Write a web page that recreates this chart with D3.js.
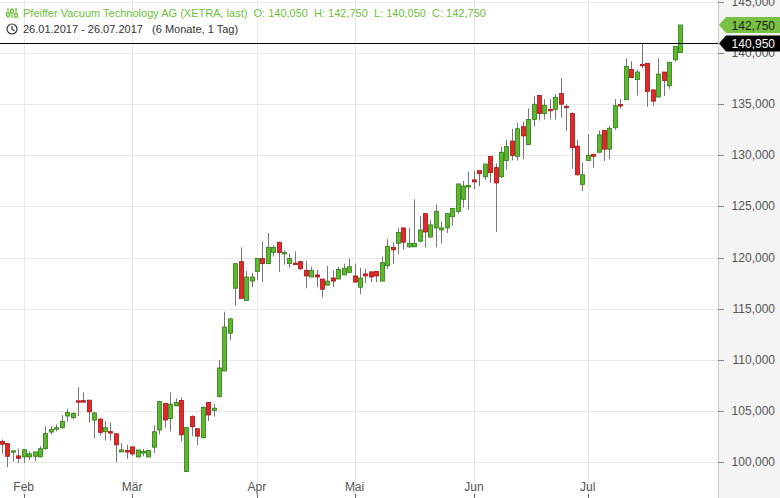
<!DOCTYPE html>
<html><head><meta charset="utf-8">
<script src="https://cdn.jsdelivr.net/npm/d3@7"></script>
<style>body{margin:0;background:#fff}svg{display:block;font-family:"Liberation Sans",Arial,sans-serif}</style>
</head><body><svg id="c" width="780" height="498"></svg>
<script>
// OHLC in thousand EUR, one row per trading day (26.01.2017 - 26.07.2017)
var opens = [102.0,101.8,101.0,100.6,100.5,100.5,100.56,100.5,101.3,102.93,103.22,103.35,104.5,104.34,105.99,106.0,106.05,104.1,104.2,102.96,102.97,102.76,100.99,101.12,101.48,100.49,100.89,100.49,101.45,103.13,105.72,104.24,105.49,106.02,99.08,104.44,103.26,102.37,105.82,105.03,106.4,108.9,112.6,117.0,119.6,115.8,117.7,118.65,119.9,119.4,120.5,121.5,120.4,119.4,119.45,119.6,118.75,118.1,118.3,117.9,117.3,118.0,117.9,118.3,118.55,118.2,117.1,118.4,118.6,118.65,117.7,119.2,121.0,121.4,122.9,121.05,121.05,121.6,124.3,122.0,122.9,122.7,122.9,124.0,124.5,125.7,126.9,127.6,128.5,127.9,129.9,128.8,127.9,129.5,131.4,129.9,132.8,131.05,133.5,135.85,134.1,134.5,134.5,136.05,134.8,134.1,130.9,127.15,129.5,130.1,130.3,132.45,130.6,132.7,134.97,135.45,138.4,137.4,138.9,139.0,136.4,135.7,138.15,136.8,139.35,140.05];
var highs = [102.2,101.8,101.1,101.3,101.2,101.05,100.99,101.55,103.5,103.5,103.68,104.57,105.2,104.84,107.3,106.8,106.05,104.9,104.3,104.0,103.85,102.76,101.87,101.7,101.48,101.18,101.28,101.12,103.59,105.99,105.72,106.81,106.22,106.32,103.36,104.57,103.26,105.43,105.82,105.66,110.0,114.7,114.1,119.4,121.0,118.7,118.5,119.9,121.6,122.4,121.2,121.5,120.7,120.4,120.6,119.7,119.7,119.1,118.8,117.9,119.2,118.7,119.1,119.4,119.9,119.4,119.0,118.9,118.6,118.65,120.1,121.8,121.5,122.9,122.9,122.9,125.7,124.05,124.3,123.65,125.2,123.5,124.3,124.8,127.2,127.5,128.4,128.5,128.5,129.15,129.9,129.2,130.85,131.5,132.6,133.2,133.3,134.6,135.8,135.85,135.5,135.5,136.0,137.55,135.0,134.2,131.5,129.3,132.05,130.1,132.45,132.45,132.85,135.5,135.5,139.5,139.2,138.4,140.95,139.0,136.45,139.5,138.15,139.1,140.65,142.75];
var lows = [100.8,99.5,100.07,99.9,99.9,100.2,100.07,100.46,101.2,102.7,103.0,103.26,103.95,104.18,104.5,105.9,103.85,102.3,102.6,102.1,102.1,99.96,100.99,100.3,100.56,100.49,100.56,100.49,100.89,102.7,103.36,103.0,105.49,102.04,99.01,102.53,101.64,102.37,104.01,104.44,106.3,108.9,111.9,115.3,116.0,115.8,117.1,117.8,117.6,119.4,120.1,118.6,119.3,119.0,119.4,118.8,117.0,118.1,117.1,116.1,117.3,117.1,117.9,118.3,118.55,117.6,116.4,117.5,117.6,117.6,117.7,118.9,119.4,120.3,120.8,120.95,121.05,121.5,121.0,122.0,121.0,121.4,122.4,123.1,124.3,124.9,124.7,126.7,127.0,127.6,127.3,122.5,127.8,128.6,129.5,129.5,129.6,131.05,132.8,133.4,133.5,133.5,133.5,133.7,132.4,128.7,128.0,126.5,129.5,128.8,130.3,129.45,129.6,132.5,134.6,135.45,137.6,135.85,138.5,134.75,134.85,135.7,135.8,136.5,139.15,140.05];
var closes = [101.74,100.56,101.1,100.36,101.2,100.8,100.99,101.3,102.8,103.19,103.35,103.98,104.84,104.77,105.95,105.95,104.9,104.8,102.9,103.36,102.93,101.68,101.18,100.99,100.79,101.18,101.02,101.12,102.96,105.92,104.11,105.66,105.82,102.66,103.36,103.45,102.53,105.33,104.6,105.26,109.2,113.2,114.0,119.4,116.0,118.1,118.1,119.9,119.4,121.0,121.0,120.5,120.5,119.9,119.4,118.9,118.2,118.75,118.1,116.9,117.7,117.7,118.85,118.95,119.1,117.6,118.0,118.2,118.1,118.2,119.5,121.1,120.75,122.45,121.5,121.4,121.4,122.7,122.5,123.2,124.5,122.9,124.3,124.8,127.2,127.0,127.05,127.4,128.2,129.15,128.3,127.3,130.3,130.85,130.0,132.6,131.9,133.5,135.0,134.1,134.9,134.45,135.65,135.0,134.7,130.75,128.1,128.1,130.0,129.9,132.0,130.6,132.65,134.85,134.9,138.7,137.6,138.15,138.8,136.25,135.3,137.95,137.3,139.1,140.65,142.75];
var monthLabels = ["Feb","Mär","Apr","Mai","Jun","Jul"];
var monthIdx = [4,24,47,65,87,108];
var yTicks = [100000,105000,110000,115000,120000,125000,130000,135000,140000,145000];
var lastPrice = 142750, refPrice = 140950;

var svg = d3.select("#c");
var W = 780, H = 498, plotR = 718;
var de = d3.formatLocale({decimal: ",", thousands: ".", grouping: [3], currency: ["", " €"]});
var fmt = function(v){ return de.format(".3f")(v/1000); };

var x = d3.scaleLinear().domain([0, opens.length-1]).range([2, 680]);
var y = d3.scaleLinear().domain([100000,145000]).range([462,2]);

// right axis panel
svg.append("rect").attr("x",plotR).attr("y",0).attr("width",W-plotR).attr("height",H).attr("fill","#f4f4f4");
svg.append("line").attr("x1",plotR+0.5).attr("x2",plotR+0.5).attr("y1",0).attr("y2",H).attr("stroke","#ccc");

// grid
svg.append("g").selectAll("line").data(yTicks).enter().append("line")
  .attr("x1",0).attr("x2",plotR).attr("y1",function(d){return Math.round(y(d))+0.5;}).attr("y2",function(d){return Math.round(y(d))+0.5;})
  .attr("stroke","#e8e8e8");
svg.append("g").selectAll("line").data(monthIdx).enter().append("line")
  .attr("x1",function(d){return Math.round(x(d))+0.5;}).attr("x2",function(d){return Math.round(x(d))+0.5;})
  .attr("y1",0).attr("y2",H).attr("stroke","#e8e8e8");

// y labels
var ya = svg.append("g");
ya.selectAll("line").data(yTicks).enter().append("line")
  .attr("x1",plotR).attr("x2",plotR+6).attr("y1",function(d){return Math.round(y(d))+0.5;}).attr("y2",function(d){return Math.round(y(d))+0.5;})
  .attr("stroke","#888");
ya.selectAll("text").data(yTicks).enter().append("text")
  .attr("x",775).attr("y",function(d){return y(d)+4;}).attr("text-anchor","end")
  .attr("font-size",12).attr("fill","#555").text(fmt);

// x labels
var xa = svg.append("g");
xa.selectAll("text").data(monthIdx).enter().append("text")
  .attr("x",function(d){return x(d);}).attr("y",491).attr("text-anchor","middle")
  .attr("font-size",12).attr("fill","#555").text(function(d,i){return monthLabels[i];});
xa.selectAll("line").data(monthIdx).enter().append("line")
  .attr("x1",function(d){return Math.round(x(d))+0.5;}).attr("x2",function(d){return Math.round(x(d))+0.5;})
  .attr("y1",494).attr("y2",498).attr("stroke","#666");

// candles
var idx = d3.range(opens.length);
var g = svg.append("g");
g.selectAll("line.w").data(idx).enter().append("line")
  .attr("x1",function(i){return Math.round(x(i))+0.5;}).attr("x2",function(i){return Math.round(x(i))+0.5;})
  .attr("y1",function(i){return y(highs[i]*1000);}).attr("y2",function(i){return y(lows[i]*1000);})
  .attr("stroke","#777").attr("stroke-width",1);
g.selectAll("rect").data(idx).enter().append("rect")
  .attr("x",function(i){return Math.round(x(i))-1.5;}).attr("width",4)
  .attr("y",function(i){return y(Math.max(opens[i],closes[i])*1000);})
  .attr("height",function(i){return Math.max(1.5, Math.abs(y(opens[i]*1000)-y(closes[i]*1000)));})
  .attr("fill",function(i){return closes[i]>=opens[i]?"#5cb82e":"#e02828";})
  .attr("stroke",function(i){return closes[i]>=opens[i]?"#2f7d14":"#a81414";})
  .attr("stroke-width",0.8);

// reference line
svg.append("line").attr("x1",0).attr("x2",plotR).attr("y1",Math.round(y(refPrice))+0.5).attr("y2",Math.round(y(refPrice))+0.5)
  .attr("stroke","#000").attr("stroke-width",1);

// price tags
function tag(v, bg, fg){
  var ty = y(v);
  svg.append("path").attr("d","M"+(plotR+1)+","+ty+" L"+(plotR+8)+","+(ty-8)+" L780,"+(ty-8)+" L780,"+(ty+8)+" L"+(plotR+8)+","+(ty+8)+"Z").attr("fill",bg);
  svg.append("text").attr("x",775).attr("y",ty+4.5).attr("text-anchor","end").attr("font-size",12).attr("fill",fg).text(fmt(v));
}
tag(lastPrice,"#78c143","#1a1a1a");
tag(refPrice,"#000","#fff");

// header
var hd = svg.append("g");
var ic = hd.append("g").attr("stroke","#6cbf3c").attr("fill","none").attr("stroke-width",1.2);
[8,12,16].forEach(function(cx,k){
  ic.append("line").attr("x1",cx).attr("x2",cx).attr("y1",8).attr("y2",18);
  ic.append("rect").attr("x",cx-1.5).attr("y",[13,10,14][k]).attr("width",3).attr("height",3).attr("fill","#fff");
});
hd.append("text").attr("x",23).attr("y",17).attr("font-size",11).attr("fill","#6cbf3c")
  .text("Pfeiffer Vacuum Technology AG (XETRA, last)  O: 140,050  H: 142,750  L: 140,050  C: 142,750").attr("xml:space","preserve");
hd.append("circle").attr("cx",12).attr("cy",29).attr("r",5).attr("fill","none").attr("stroke","#333").attr("stroke-width",1.2);
hd.append("path").attr("d","M12,26 L12,29 L14.5,31").attr("fill","none").attr("stroke","#333").attr("stroke-width",1.2);
hd.append("text").attr("x",23).attr("y",33).attr("font-size",11).attr("fill","#333")
  .text("26.01.2017 - 26.07.2017   (6 Monate, 1 Tag)").attr("xml:space","preserve");
</script></body></html>
